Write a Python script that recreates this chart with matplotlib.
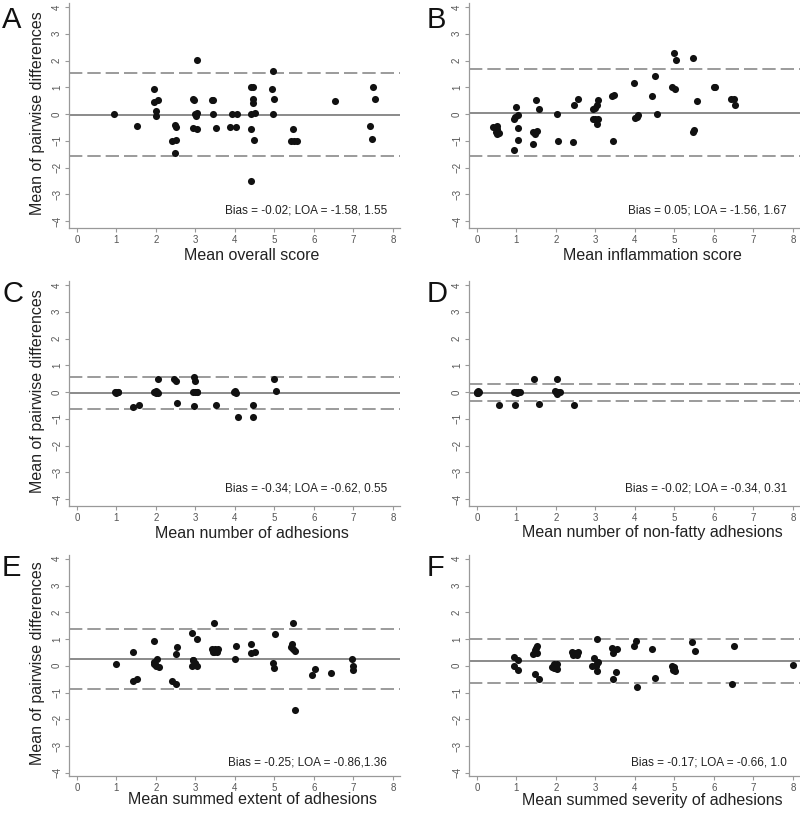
import matplotlib
matplotlib.use("Agg")
import matplotlib.pyplot as plt

plt.rcParams['font.family'] = ['Liberation Sans', 'DejaVu Sans']

# panel A - overall score
a_x = [0.95, 1.52, 1.95, 1.95, 2.05, 2.0, 2.0, 2.48, 2.52, 2.4, 2.52, 2.48,
       2.93, 2.96, 2.93, 3.03, 3.05, 3.0, 3.02, 3.03, 3.42, 3.45, 3.45, 3.52,
       3.92, 4.05, 3.88, 4.02, 4.4, 4.45, 4.46, 4.45, 4.4, 4.5, 4.42, 4.48,
       4.4, 4.97, 4.95, 5.0, 4.97, 5.46, 5.43, 5.49, 5.56, 6.54, 7.41, 7.47,
       7.49, 7.54]
a_y = [0.0, -0.43, 0.95, 0.45, 0.52, 0.1, -0.08, -0.42, -0.5, -1.0, -0.98, -1.45,
       0.55, 0.52, -0.52, -0.56, 2.02, 0.0, -0.08, 0.04, 0.53, 0.53, 0.0, -0.52,
       0.0, 0.0, -0.5, -0.5, 1.0, 1.0, 0.57, 0.42, 0.0, 0.04, -0.55, -0.96,
       -2.5, 1.6, 0.93, 0.57, 0.0, -0.56, -1.0, -1.0, -1.0, 0.5, -0.45, -0.92,
       1.0, 0.55]

# panel B - inflammation score
b_x = [0.42, 0.5, 0.52, 0.48, 0.55, 0.5, 0.98, 0.93, 0.97, 1.04, 1.04, 1.05,
       0.93, 1.49, 1.56, 1.42, 1.48, 1.52, 1.43, 2.04, 2.06, 2.46, 2.55, 2.44,
       2.93, 2.99, 3.03, 3.06, 2.93, 2.99, 3.03, 3.07, 3.43, 3.47, 3.45, 3.97,
       4.0, 4.05, 4.07, 4.5, 4.44, 4.55, 4.99, 5.05, 4.93, 5.02, 5.46, 5.46,
       5.5, 5.56, 6.0, 6.04, 6.44, 6.5, 6.53]
b_y = [-0.5, -0.45, -0.55, -0.68, -0.72, -0.75, 0.26, -0.17, -0.11, -0.05, -0.52, -0.98,
       -1.33, 0.51, 0.2, -0.67, -0.73, -0.63, -1.13, 0.0, -1.0, 0.35, 0.56, -1.05,
       0.17, 0.22, 0.35, 0.53, -0.17, -0.2, -0.37, -0.17, 0.66, 0.7, -1.0, 1.15,
       -0.15, -0.1, -0.05, 1.44, 0.66, 0.0, 2.27, 2.02, 1.0, 0.93, 2.11, -0.67,
       -0.58, 0.47, 1.0, 1.0, 0.56, 0.57, 0.34]

# panel C - number of adhesions
c_x = [0.97, 1.0, 1.03, 1.0, 1.05, 1.42, 1.57, 1.97, 2.0, 2.03, 2.05, 2.0, 1.95,
       2.05, 2.45, 2.5, 2.53, 2.97, 3.0, 2.95, 3.0, 3.03, 3.05, 2.97, 3.52,
       4.0, 4.02, 3.98, 4.07, 4.45, 4.47, 5.0, 5.05]
c_y = [0.0, 0.02, 0.0, -0.02, 0.01, -0.55, -0.5, 0.0, 0.03, 0.0, -0.02, -0.03, 0.02,
       0.47, 0.47, 0.43, -0.4, 0.55, 0.42, 0.0, 0.0, 0.02, 0.0, -0.52, -0.5,
       0.05, -0.05, 0.0, -0.95, -0.95, -0.5, 0.5, 0.05]

# panel D - number of non-fatty adhesions
d_x = [0.0, 0.02, 0.05, 0.0, 0.03, 0.57, 0.97, 0.95, 1.0, 1.05, 1.02, 1.08,
       1.45, 1.57, 2.03, 1.97, 2.0, 2.05, 2.1, 2.02, 2.47]
d_y = [0.0, 0.05, 0.0, -0.05, -0.03, -0.5, -0.5, 0.0, 0.0, 0.0, -0.03, 0.0,
       0.5, -0.45, 0.5, 0.03, 0.0, 0.0, 0.02, -0.08, -0.5]

# panel E - summed extent of adhesions
e_x = [1.0, 1.42, 1.42, 1.53, 1.96, 1.95, 1.98, 2.03, 2.0, 2.07, 1.95, 2.41, 2.51,
       2.54, 2.51, 2.92, 3.03, 2.93, 2.98, 2.92, 3.03, 3.0, 2.95, 3.46, 3.42,
       3.5, 3.55, 3.46, 3.58, 3.45, 4.02, 4.0, 4.4, 4.4, 4.51, 4.96, 5.0, 5.02,
       5.48, 5.45, 5.43, 5.48, 5.53, 5.53, 5.94, 6.03, 6.43, 6.97, 7.0, 6.98]
e_y = [0.06, 0.5, -0.55, -0.5, 0.94, 0.16, 0.08, 0.25, 0.0, -0.03, 0.06, -0.55, -0.68,
       0.72, 0.43, 1.22, 1.0, 0.2, 0.12, 0.0, 0.0, 0.08, 0.2, 1.6, 0.62,
       0.62, 0.52, 0.51, 0.62, 0.5, 0.75, 0.25, 0.8, 0.48, 0.52, 0.09, -0.09, 1.2,
       1.6, 0.82, 0.7, 0.62, 0.56, -1.65, -0.34, -0.13, -0.28, 0.25, 0.0, -0.17]

# panel F - summed severity of adhesions
f_x = [0.93, 0.94, 1.04, 1.05, 1.51, 1.47, 1.43, 1.53, 1.5, 1.46, 1.56,
       1.94, 1.98, 2.03, 1.9, 2.02, 1.96, 2.42, 2.48, 2.55, 2.44, 2.53,
       2.97, 2.92, 3.03, 3.07, 3.05, 3.02, 3.04, 3.43, 3.44, 3.54, 3.45, 3.52,
       3.98, 4.04, 4.05, 4.44, 4.52, 4.93, 5.0, 4.97, 5.02, 5.0, 5.45, 5.53,
       6.5, 6.46, 8.0]
f_y = [0.32, 0.0, 0.2, -0.15, 0.75, 0.6, 0.45, 0.47, 0.68, -0.3, -0.5,
       0.07, 0.0, -0.12, -0.03, 0.06, -0.09, 0.53, 0.47, 0.5, 0.42, 0.42,
       0.29, 0.0, 0.12, 0.16, -0.19, 0.0, 1.0, 0.68, 0.47, 0.63, -0.5, -0.25,
       0.75, 0.93, -0.8, 0.63, -0.46, 0.0, -0.03, -0.17, -0.21, -0.09, 0.88, 0.56,
       0.75, -0.67, 0.04]

letters = ['A', 'B', 'C', 'D', 'E', 'F']
xlabels = ['Mean overall score', 'Mean inflammation score',
           'Mean number of adhesions', 'Mean number of non-fatty adhesions',
           'Mean summed extent of adhesions', 'Mean summed severity of adhesions']
bias_texts = ['Bias = -0.02; LOA = -1.58, 1.55', 'Bias = 0.05; LOA = -1.56, 1.67',
              'Bias = -0.34; LOA = -0.62, 0.55', 'Bias = -0.02; LOA = -0.34, 0.31',
              'Bias = -0.25; LOA = -0.86,1.36', 'Bias = -0.17; LOA = -0.66, 1.0']
center_lines = [-0.02, 0.05, -0.03, -0.02, 0.25, 0.17]
lower_loa = [-1.58, -1.56, -0.62, -0.34, -0.86, -0.66]
upper_loa = [1.55, 1.67, 0.55, 0.31, 1.36, 1.0]
xs = [a_x, b_x, c_x, d_x, e_x, f_x]
ys = [a_y, b_y, c_y, d_y, e_y, f_y]

W, H = 800, 815
fig = plt.figure(figsize=(W / 100, H / 100), dpi=100)

lefts = [69, 469]
spines_y = [228, 506, 776]
ylo = [-4.26, -4.26, -4.12]
xlab_off = [27, 27, 24]
ax_w = 331
px_per_unit = 26.75
y_top = 4.15

for i in range(6):
    row, col = divmod(i, 2)
    ax_h = (y_top - ylo[row]) * px_per_unit
    ax = fig.add_axes([lefts[col] / W, 1 - spines_y[row] / H, ax_w / W, ax_h / H])
    ax.set_xlim(-0.2, 8.18)
    ax.set_ylim(ylo[row], y_top)

    ax.axhline(center_lines[i], color='#777777', lw=1.2, zorder=1)
    ax.axhline(lower_loa[i], color='#8a8a8a', lw=1.2, ls=(0, (8, 3)), zorder=1)
    ax.axhline(upper_loa[i], color='#8a8a8a', lw=1.2, ls=(0, (8, 3)), zorder=1)
    ax.scatter(xs[i], ys[i], s=26, color='#111111', linewidths=0, zorder=3)

    for s in ['top', 'right']:
        ax.spines[s].set_visible(False)
    for s in ['left', 'bottom']:
        ax.spines[s].set_color('#999999')
        ax.spines[s].set_linewidth(0.9)

    ax.set_xticks(range(0, 9))
    ax.set_yticks(range(-4, 5))
    ax.tick_params(length=3, width=0.8, color='#999999', labelsize=7,
                   labelcolor='#555555', pad=2)
    for lab in ax.get_yticklabels():
        lab.set_rotation(90)
        lab.set_va('center')

    ax.set_xlabel(xlabels[i], fontsize=11.5, color='#222222')
    ax.xaxis.label.set_va('center')
    ax.xaxis.set_label_coords(0.553, -xlab_off[row] / ax_h)
    if col == 0:
        ax.set_ylabel('Mean of pairwise differences', fontsize=11.5, color='#222222')
        ax.yaxis.label.set_va('center')
        ax.yaxis.set_label_coords(-31 / ax_w, 0.51)

    ax.text(7.85, -3.6, bias_texts[i], ha='right', va='center', fontsize=8.5,
            color='#222222')

    letter_base = [28, 302, 576][row]
    fig.text((2 + 425 * col) / W, 1 - letter_base / H, letters[i], fontsize=21,
             ha='left', va='baseline', color='#111111')

fig.savefig('out.png', dpi=100)
